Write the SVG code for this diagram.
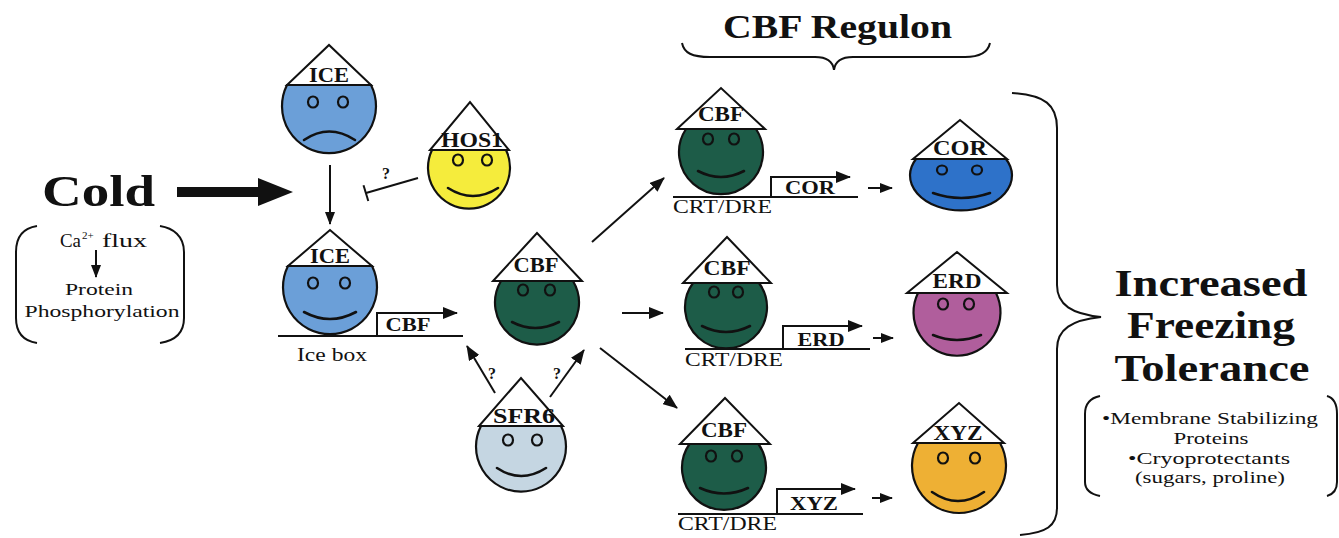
<svg xmlns="http://www.w3.org/2000/svg" width="1339" height="538" viewBox="0 0 1339 538" font-family="'Liberation Serif', Tinos, 'Times New Roman', Times, 'Nimbus Roman', 'Noto Serif', FreeSerif, serif">
  <style>
    text { font-family: "Liberation Serif", Tinos, "Times New Roman", Times, "Nimbus Roman", "Noto Serif", FreeSerif, serif; fill: #111; }
    .ink { stroke: #111; stroke-width: 2; fill: none; }
    .face { stroke: #111; stroke-width: 2.2; }
    .hat { fill: #fff; stroke: #111; stroke-width: 2; stroke-linejoin: miter; }
    .eye { stroke: #111; stroke-width: 2.2; fill: none; }
    .mouth { stroke: #111; stroke-width: 2.6; fill: none; stroke-linecap: round; }
    .b { font-weight: bold; }
    .hatlbl { font-size: 20px; font-weight: bold; text-anchor: middle; }
    .gene { font-size: 18px; font-weight: bold; text-anchor: middle; }
    .site { font-size: 18px; }
    .q { font-size: 16px; font-weight: bold; text-anchor: middle; }
    .note { font-size: 17px; text-anchor: middle; }
    .big { font-size: 38px; font-weight: bold; text-anchor: middle; }
    .ice { fill: #6b9fd8; }
    .hos { fill: #f5ec3c; }
    .cbf { fill: #1d5c48; }
    .sfr { fill: #c5d6e2; }
    .cor { fill: #2e72c9; }
    .erd { fill: #b05e9c; }
    .xyz { fill: #eeb034; }
  </style>
  <defs>
    <marker id="ah" viewBox="0 0 15 12" refX="14" refY="6" markerWidth="15" markerHeight="12" markerUnits="userSpaceOnUse" orient="auto">
      <path d="M0,0 L15,6 L0,12 Z" fill="#111"/>
    </marker>
    <marker id="ahs" viewBox="0 0 13 10" refX="12" refY="5" markerWidth="13" markerHeight="10" markerUnits="userSpaceOnUse" orient="auto">
      <path d="M0,0 L13,5 L0,10 Z" fill="#111"/>
    </marker>
  </defs>

  <!-- Cold stimulus and upstream events -->
  <g id="cold">
    <text class="b" x="42" y="206" font-size="44" textLength="113" lengthAdjust="spacingAndGlyphs">Cold</text>
    <path class="ink" d="M37,226 C24,228 16,236 16,252 L16,318 C16,334 24,341 37,343"/>
    <path class="ink" d="M160,226 C173,228 184,236 184,252 L184,318 C184,334 173,341 160,343"/>
    <text y="247" font-size="18"><tspan x="60" textLength="21" lengthAdjust="spacingAndGlyphs">Ca</tspan><tspan x="82" y="239" font-size="11">2+</tspan><tspan x="102" y="247" textLength="45" lengthAdjust="spacingAndGlyphs">flux</tspan></text>
    <line class="ink" x1="96" y1="250" x2="96" y2="277" marker-end="url(#ahs)"/>
    <text class="note" x="99" y="295" textLength="68" lengthAdjust="spacingAndGlyphs">Protein</text>
    <text class="note" x="102" y="317" textLength="155" lengthAdjust="spacingAndGlyphs">Phosphorylation</text>
  </g>

  <!-- ICE, inactive -->
  <g id="ice-inactive">
    <path class="face ice" d="M287,85 A47,47 0 1 0 371,85 Z"/>
    <polygon class="hat" points="287,85 371,85 329,45"/>
    <text class="hatlbl" x="329" y="82" textLength="40" lengthAdjust="spacingAndGlyphs">ICE</text>
    <ellipse class="eye" cx="313" cy="102" rx="5" ry="5.5"/>
    <ellipse class="eye" cx="343" cy="102" rx="5" ry="5.5"/>
    <path class="mouth" d="M304,140 Q329,123 355,140"/>
  </g>

  <!-- HOS1 -->
  <g id="hos1">
    <path class="face hos" d="M432,150 A41,41 0 1 0 506,150 Z"/>
    <polygon class="hat" points="430,150 509,150 470,102"/>
    <text class="hatlbl" x="472" y="147" textLength="62" lengthAdjust="spacingAndGlyphs">HOS1</text>
    <ellipse class="eye" cx="458" cy="160" rx="5" ry="5.5"/>
    <ellipse class="eye" cx="487" cy="160" rx="5" ry="5.5"/>
    <path class="mouth" d="M448,188 Q473,204 498,188"/>
  </g>

  <!-- ICE, active, on the ICE box -->
  <g id="ice-active">
    <path class="face ice" d="M288,266 A47,47 0 1 0 372,266 Z"/>
    <polygon class="hat" points="288,266 372,266 330,230"/>
    <text class="hatlbl" x="330" y="263" textLength="40" lengthAdjust="spacingAndGlyphs">ICE</text>
    <ellipse class="eye" cx="313" cy="283" rx="5" ry="5.5"/>
    <ellipse class="eye" cx="345" cy="283" rx="5" ry="5.5"/>
    <path class="mouth" d="M304,312 Q330,326 356,312"/>
    <text class="site" x="297" y="361" font-size="17" textLength="70" lengthAdjust="spacingAndGlyphs">Ice box</text>
    <text class="gene" x="408" y="331" textLength="45" lengthAdjust="spacingAndGlyphs">CBF</text>
  </g>

  <!-- CBF protein -->
  <g id="cbf">
    <path class="face cbf" d="M501,281 A42,42 0 1 0 573,281 Z"/>
    <polygon class="hat" points="493,281 582,281 537,233"/>
    <text class="hatlbl" x="536" y="272" textLength="45" lengthAdjust="spacingAndGlyphs">CBF</text>
    <ellipse class="eye" cx="523" cy="290" rx="5" ry="5.5"/>
    <ellipse class="eye" cx="550" cy="290" rx="5" ry="5.5"/>
    <path class="mouth" d="M512,322 Q535,334 559,322"/>
  </g>

  <!-- SFR6 -->
  <g id="sfr6">
    <path class="face sfr" d="M481,426 A45,45 0 1 0 561,426 Z"/>
    <polygon class="hat" points="479,426 563,426 521,378"/>
    <text class="hatlbl" x="524" y="423" textLength="62" lengthAdjust="spacingAndGlyphs">SFR6</text>
    <ellipse class="eye" cx="508" cy="440" rx="5" ry="5.5"/>
    <ellipse class="eye" cx="537" cy="440" rx="5" ry="5.5"/>
    <path class="mouth" d="M497,468 Q521,484 546,468"/>
  </g>

  <!-- CBF bound at the COR promoter -->
  <g id="cbf-cor">
    <path class="face cbf" d="M686,129 A42,42 0 1 0 756,129 Z"/>
    <polygon class="hat" points="677,129 765,129 721,88"/>
    <text class="hatlbl" x="721" y="121" textLength="46" lengthAdjust="spacingAndGlyphs">CBF</text>
    <ellipse class="eye" cx="708" cy="139" rx="5" ry="5.5"/>
    <ellipse class="eye" cx="734" cy="139" rx="5" ry="5.5"/>
    <path class="mouth" d="M698,171 Q721,183 744,171"/>
    <text class="site" x="673" y="213" textLength="99" lengthAdjust="spacingAndGlyphs">CRT/DRE</text>
    <text class="gene" x="810" y="194" textLength="50" lengthAdjust="spacingAndGlyphs">COR</text>
  </g>

  <!-- CBF bound at the ERD promoter -->
  <g id="cbf-erd">
    <path class="face cbf" d="M693,283 A41,41 0 1 0 759,283 Z"/>
    <polygon class="hat" points="683,283 771,283 727,237"/>
    <text class="hatlbl" x="727" y="275" textLength="47" lengthAdjust="spacingAndGlyphs">CBF</text>
    <ellipse class="eye" cx="714" cy="292" rx="5" ry="5.5"/>
    <ellipse class="eye" cx="738" cy="292" rx="5" ry="5.5"/>
    <path class="mouth" d="M702,326 Q726,338 750,326"/>
    <text class="site" x="685" y="366" textLength="98" lengthAdjust="spacingAndGlyphs">CRT/DRE</text>
    <text class="gene" x="821" y="346" textLength="47" lengthAdjust="spacingAndGlyphs">ERD</text>
  </g>

  <!-- CBF bound at the XYZ promoter -->
  <g id="cbf-xyz">
    <path class="face cbf" d="M689.5,444 A42,42 0 1 0 758.5,444 Z"/>
    <polygon class="hat" points="680,444 770,444 725,398"/>
    <text class="hatlbl" x="724" y="437" textLength="46" lengthAdjust="spacingAndGlyphs">CBF</text>
    <ellipse class="eye" cx="711" cy="456" rx="5" ry="5.5"/>
    <ellipse class="eye" cx="737" cy="456" rx="5" ry="5.5"/>
    <path class="mouth" d="M700,488 Q724,499 748,488"/>
    <text class="site" x="678" y="530" textLength="99" lengthAdjust="spacingAndGlyphs">CRT/DRE</text>
    <text class="gene" x="814" y="510" textLength="48" lengthAdjust="spacingAndGlyphs">XYZ</text>
  </g>

  <!-- COR protein -->
  <g id="cor">
    <path class="face cor" d="M916,159 A51,35 0 1 0 1006,159 Z"/>
    <polygon class="hat" points="913,159 1007,159 960,120"/>
    <text class="hatlbl" x="960" y="155" textLength="54" lengthAdjust="spacingAndGlyphs">COR</text>
    <ellipse class="eye" cx="942" cy="170" rx="5" ry="4.5"/>
    <ellipse class="eye" cx="977" cy="170" rx="5" ry="4.5"/>
    <path class="mouth" d="M933,193 Q961,203 990,193"/>
  </g>

  <!-- ERD protein -->
  <g id="erd">
    <path class="face erd" d="M918,293 A43.5,43.5 0 1 0 996,293 Z"/>
    <polygon class="hat" points="907,293 1007,293 957,252"/>
    <text class="hatlbl" x="957" y="288" textLength="49" lengthAdjust="spacingAndGlyphs">ERD</text>
    <ellipse class="eye" cx="943" cy="304" rx="5" ry="5.5"/>
    <ellipse class="eye" cx="969" cy="304" rx="5" ry="5.5"/>
    <path class="mouth" d="M933,335 Q957,345 981,335"/>
  </g>

  <!-- XYZ protein -->
  <g id="xyz">
    <path class="face xyz" d="M918,443 A47,47 0 1 0 1000,443 Z"/>
    <polygon class="hat" points="913,443 1004,443 959,403"/>
    <text class="hatlbl" x="958" y="440" textLength="49" lengthAdjust="spacingAndGlyphs">XYZ</text>
    <ellipse class="eye" cx="943" cy="458" rx="5" ry="5.5"/>
    <ellipse class="eye" cx="975" cy="458" rx="5" ry="5.5"/>
    <path class="mouth" d="M932,492 Q958,510 984,492"/>
  </g>

  <!-- CBF regulon heading -->
  <g id="regulon">
    <text class="b" x="723" y="38" font-size="34" textLength="229" lengthAdjust="spacingAndGlyphs">CBF Regulon</text>
    <path class="ink" d="M682,43 C684,53 692,57 710,57 L815,57 C828,57 833,62 834,70 C835,62 840,57 853,57 L965,57 C980,57 988,52 990,43"/>
  </g>

  <!-- Outcome -->
  <g id="tolerance">
    <path class="ink" d="M1012,93 C1045,95 1057,105 1057,128 L1057,285 C1057,305 1072,314 1101,317 C1072,320 1057,329 1057,349 L1057,508 C1057,526 1046,533 1020,535"/>
    <text class="big" x="1211" y="296" textLength="193" lengthAdjust="spacingAndGlyphs">Increased</text>
    <text class="big" x="1211" y="338" textLength="168" lengthAdjust="spacingAndGlyphs">Freezing</text>
    <text class="big" x="1212" y="381" textLength="195" lengthAdjust="spacingAndGlyphs">Tolerance</text>
    <path class="ink" d="M1100,396 C1090,398 1085,404 1085,414 L1085,482 C1085,490 1090,494 1100,496"/>
    <path class="ink" d="M1327,396 C1334,398 1337,404 1337,414 L1337,482 C1337,490 1334,494 1327,496"/>
    <text class="note" x="1210" y="424" textLength="216" lengthAdjust="spacingAndGlyphs">•Membrane Stabilizing</text>
    <text class="note" x="1211" y="444" textLength="75" lengthAdjust="spacingAndGlyphs">Proteins</text>
    <text class="note" x="1209" y="464" textLength="162" lengthAdjust="spacingAndGlyphs">•Cryoprotectants</text>
    <text class="note" x="1210" y="483" textLength="150" lengthAdjust="spacingAndGlyphs">(sugars, proline)</text>
  </g>

  <!-- Connectors: arrows, inhibition, promoter lines -->
  <g id="connectors">
    <!-- cold signal -->
    <line x1="177" y1="192" x2="262" y2="192" stroke="#111" stroke-width="10"/>
    <polygon points="258,178 293,192 258,206" fill="#111"/>
    <!-- ICE activation -->
    <line class="ink" x1="330" y1="165" x2="330" y2="224" marker-end="url(#ahs)"/>
    <!-- HOS1 inhibition -->
    <line class="ink" x1="418" y1="178" x2="366" y2="193"/>
    <line class="ink" x1="363.5" y1="185.3" x2="368.3" y2="201"/>
    <text class="q" x="386" y="179">?</text>
    <!-- ICE box promoter and CBF gene -->
    <line class="ink" x1="278" y1="336" x2="463" y2="336"/>
    <path class="ink" d="M377,336 V313 H457" marker-end="url(#ah)"/>
    <!-- SFR6 effects -->
    <line class="ink" x1="495" y1="393" x2="467" y2="346" marker-end="url(#ah)"/>
    <text class="q" x="492" y="379">?</text>
    <line class="ink" x1="550" y1="397" x2="584" y2="350" marker-end="url(#ah)"/>
    <text class="q" x="557" y="379">?</text>
    <!-- CBF to target promoters -->
    <line class="ink" x1="592" y1="242" x2="664" y2="178" marker-end="url(#ah)"/>
    <line class="ink" x1="622" y1="313" x2="663" y2="313" marker-end="url(#ah)"/>
    <line class="ink" x1="600" y1="348" x2="677" y2="408" marker-end="url(#ah)"/>
    <!-- COR promoter -->
    <line class="ink" x1="673" y1="197" x2="858" y2="197"/>
    <path class="ink" d="M771,197 V177 H850" marker-end="url(#ah)"/>
    <line class="ink" x1="868" y1="188" x2="892" y2="188" marker-end="url(#ahs)"/>
    <!-- ERD promoter -->
    <line class="ink" x1="685" y1="349" x2="870" y2="349"/>
    <path class="ink" d="M783,349 V326 H862" marker-end="url(#ah)"/>
    <line class="ink" x1="873" y1="338" x2="893" y2="338" marker-end="url(#ahs)"/>
    <!-- XYZ promoter -->
    <line class="ink" x1="678" y1="514" x2="863" y2="514"/>
    <path class="ink" d="M777,514 V489 H855" marker-end="url(#ah)"/>
    <line class="ink" x1="872" y1="498" x2="892" y2="498" marker-end="url(#ahs)"/>
  </g>
</svg>
